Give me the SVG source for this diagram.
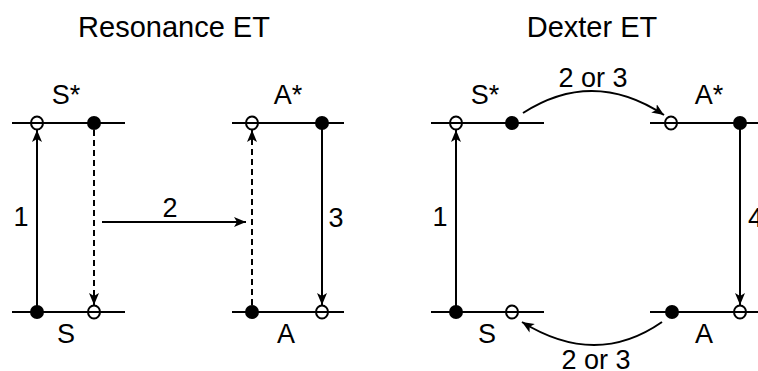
<svg xmlns="http://www.w3.org/2000/svg" width="758" height="371" viewBox="0 0 758 371">
<defs>
<marker id="ah" markerUnits="userSpaceOnUse" markerWidth="13" markerHeight="11" refX="12" refY="5" orient="auto">
<path d="M0,0 L12,5 L0,10 L3,5 z" fill="#000"/>
</marker>
<style>
.t{font-family:"Liberation Sans",Arial,sans-serif;font-size:29px;fill:#000;text-anchor:middle}
.l{font-family:"Liberation Sans",Arial,sans-serif;font-size:27px;fill:#000;text-anchor:middle}
.lv{stroke:#000;stroke-width:2;fill:none}
.o{fill:none;stroke:#000;stroke-width:2}
.f{fill:#000}
.a{stroke:#000;stroke-width:2;fill:none;marker-end:url(#ah)}
.d{stroke-dasharray:6 4}
</style>
</defs>
<rect width="758" height="371" fill="#fff"/>
<text class="t" x="174" y="37">Resonance ET</text>
<text class="t" x="592" y="37">Dexter ET</text>

<g id="res-S-star">
<line class="lv" x1="12" y1="123" x2="125" y2="123"/>
<text class="l" x="66" y="104">S*</text>
</g>
<g id="res-S">
<line class="lv" x1="12" y1="312" x2="125" y2="312"/>
<text class="l" x="66" y="343">S</text>
</g>
<g id="res-A-star">
<line class="lv" x1="232" y1="123" x2="344" y2="123"/>
<text class="l" x="288" y="104">A*</text>
</g>
<g id="res-A">
<line class="lv" x1="232" y1="312" x2="344" y2="312"/>
<text class="l" x="286" y="343">A</text>
</g>

<g id="dex-S-star">
<line class="lv" x1="431" y1="123" x2="544" y2="123"/>
<text class="l" x="485" y="104">S*</text>
</g>
<g id="dex-S">
<line class="lv" x1="431" y1="312" x2="544" y2="312"/>
<text class="l" x="487" y="343">S</text>
</g>
<g id="dex-A-star">
<line class="lv" x1="650" y1="123" x2="758" y2="123"/>
<text class="l" x="709" y="104">A*</text>
</g>
<g id="dex-A">
<line class="lv" x1="650" y1="312" x2="758" y2="312"/>
<text class="l" x="704" y="343">A</text>
</g>

<g id="connectors">
<line class="a" x1="37" y1="306" x2="37" y2="130"/>
<line class="a d" x1="94" y1="130" x2="94" y2="305"/>
<line class="a" x1="102" y1="222" x2="246" y2="222"/>
<line class="a d" x1="252" y1="305" x2="252" y2="130"/>
<line class="a" x1="322" y1="129" x2="322" y2="305"/>
<line class="a" x1="456" y1="306" x2="456" y2="130"/>
<line class="a" x1="740" y1="129" x2="740" y2="305"/>
<path class="a" d="M523,113 Q593,68 664,115"/>
<path class="a" d="M662,322 Q596,368 522,322"/>
<text class="l" x="21" y="226">1</text>
<text class="l" x="170" y="217">2</text>
<text class="l" x="336" y="227">3</text>
<text class="l" x="440" y="226">1</text>
<text class="l" x="748" y="227" style="text-anchor:start">4</text>
<text class="l" x="593" y="87">2 or 3</text>
<text class="l" x="596" y="369">2 or 3</text>
</g>

<g id="dots">
<ellipse class="o" cx="37" cy="123" rx="6" ry="6.5"/>
<circle class="f" cx="94" cy="123" r="7"/>
<circle class="f" cx="37" cy="312" r="7"/>
<ellipse class="o" cx="94" cy="312" rx="6" ry="6.5"/>
<ellipse class="o" cx="252" cy="123" rx="6" ry="6.5"/>
<circle class="f" cx="322" cy="123" r="7"/>
<circle class="f" cx="252" cy="312" r="7"/>
<ellipse class="o" cx="322" cy="312" rx="6" ry="6.5"/>
<ellipse class="o" cx="456" cy="123" rx="6" ry="6.5"/>
<circle class="f" cx="512" cy="123" r="7"/>
<circle class="f" cx="456" cy="312" r="7"/>
<ellipse class="o" cx="512" cy="312" rx="6" ry="6.5"/>
<ellipse class="o" cx="671" cy="123" rx="6" ry="6.5"/>
<circle class="f" cx="740" cy="123" r="7"/>
<circle class="f" cx="672" cy="312" r="7"/>
<ellipse class="o" cx="740" cy="312" rx="6" ry="6.5"/>
</g>
</svg>
